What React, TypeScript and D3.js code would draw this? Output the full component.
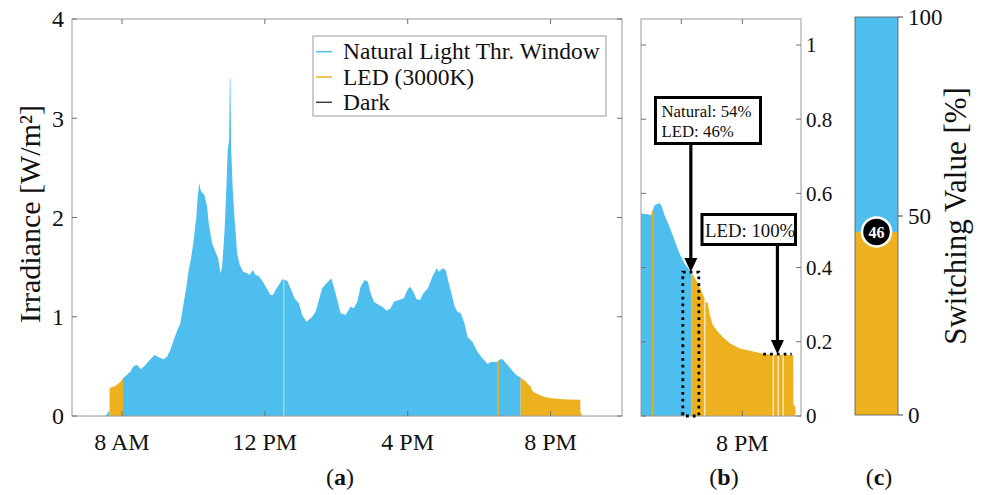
import React from 'react';
import * as d3 from 'd3';

// ---------- data (hours of day, irradiance W/m²) ----------
const naturalHours = [
  7.53, 7.58, 7.65, NaN,
  8.028, 8.233, 8.325, 8.421, 8.533, 8.653, 8.774, 8.914, 9.054, 9.166, 9.262, 9.354, 9.447, 9.542,
  9.634, 9.71, 9.803, 9.867, 9.934, 10.007, 10.083, 10.119, 10.15, 10.167, 10.195, 10.223, 10.307,
  10.383, 10.428, 10.523, 10.616, 10.691, 10.756, 10.803, 10.868, 10.924, 10.96, 11.0, 11.02, 11.035,
  11.056, 11.101, 11.148, 11.224, 11.297, 11.392, 11.504, 11.577, 11.661, 11.737, 11.83, 11.97,
  12.158, 12.233, 12.298, 12.39, 12.486, 12.626, 12.718, 12.83, 12.951, 13.046, 13.167, 13.327,
  13.419, 13.512, 13.607, 13.727, 13.859, 13.932, 14.027, 14.12, 14.26, 14.4, 14.493, 14.588,
  14.681, 14.793, 14.885, 14.961, 15.054, 15.194, 15.289, 15.41, 15.522, 15.614, 15.755, 15.895,
  15.99, 16.063, 16.158, 16.251, 16.343, 16.439, 16.567, 16.691, 16.811, 16.876, 16.971, 17.064,
  17.128, 17.223, 17.316, 17.392, 17.484, 17.577, 17.672, 17.812, 17.952, 18.093, 18.233, 18.341,
  18.451, 18.505, 18.561, 18.643, 18.68, 18.725, 18.807, 18.889, 18.97, 19.052, 19.134, 19.161,
];
const naturalValues = [
  0, 0.02, 0.06, NaN,
  0.38, 0.446, 0.504, 0.514, 0.471, 0.514, 0.564, 0.615, 0.587, 0.571, 0.597, 0.665, 0.766, 0.859,
  0.934, 1.101, 1.303, 1.471, 1.589, 1.773, 2.008, 2.21, 2.3, 2.351, 2.28, 2.26, 2.227,
  2.109, 1.942, 1.74, 1.655, 1.589, 1.438, 1.504, 1.841, 2.31, 2.68, 2.781, 3.4, 3.4,
  2.713, 2.277, 2.008, 1.639, 1.521, 1.454, 1.438, 1.421, 1.471, 1.421, 1.411, 1.337,
  1.219, 1.219, 1.27, 1.32, 1.377, 1.363, 1.287, 1.186, 1.136, 1.018, 0.95, 1.001,
  1.051, 1.169, 1.287, 1.337, 1.387, 1.303, 1.169, 1.035, 1.018, 1.101, 1.085, 1.152,
  1.303, 1.37, 1.353, 1.236, 1.152, 1.118, 1.101, 1.061, 1.085, 1.152, 1.169, 1.186,
  1.27, 1.303, 1.252, 1.176, 1.169, 1.236, 1.287, 1.404, 1.488, 1.454, 1.488, 1.471,
  1.37, 1.236, 1.101, 1.051, 1.035, 0.95, 0.799, 0.749, 0.648, 0.581, 0.524, 0.546,
  0.544, 0.541, 0.568, 0.574, 0.565, 0.541, 0.51, 0.474, 0.438, 0.411, 0.393, 0.388,
];
const ledHours = [
  7.652, 7.812, 7.952, 8.028, NaN,
  19.161, 19.243, 19.31, 19.407, 19.434, 19.462, 19.516, 19.598, 19.68, 19.795, 19.959, 20.123,
  20.341, 20.533, 20.833, 20.836, 20.87,
];
const ledValues = [
  0.282, 0.302, 0.343, 0.38, NaN,
  0.388, 0.366, 0.345, 0.306, 0.305, 0.275, 0.245, 0.227, 0.213, 0.196, 0.182, 0.176,
  0.168, 0.165, 0.164, 0.03, 0.025,
];
const ledSpikeHours = [18.53];
const gapHoursA = [12.53];
const gapHoursB = [19.385, 20.505, 20.587, 20.669];

const xTicksA = [8, 12, 16, 20];
const xTickLabelsA = ['8 AM', '12 PM', '4 PM', '8 PM'];
const yTicksA = [0, 1, 2, 3, 4];
const xTicksB = [19, 20];
const xTickLabelsB = ['', '8 PM'];
const yTicksB = [0, 0.2, 0.4, 0.6, 0.8, 1];
const yTicksC = [0, 50, 100];

const legendLabels = ['Natural Light Thr. Window', 'LED (3000K)', 'Dark'];
const naturalShare = 54;
const ledShare = 46;
const switchValue = 46;
// highlighted spans in (b): [startHour, endHour, level]
const highlightBox = [19.025, 19.287, 0.388];
const highlightLine = [20.341, 20.807, 0.167];

const BLUE = '#4DBEEE';
const ORANGE = '#EDB120';
const DARK = '#404040';
const AXIS = '#9a9a9a';
const TICK = '#707070';
const FONT = "'Liberation Serif', 'Times New Roman', Times, serif";

function valueAt(h: number): number {
  const series: [number[], number[]][] = [[naturalHours, naturalValues], [ledHours, ledValues]];
  for (const [hs, vs] of series) {
    for (let i = 0; i < hs.length - 1; i++) {
      if (isNaN(vs[i]) || isNaN(vs[i + 1])) continue;
      if (h >= hs[i] && h <= hs[i + 1]) {
        const t = (h - hs[i]) / (hs[i + 1] - hs[i] || 1);
        return vs[i] + t * (vs[i + 1] - vs[i]);
      }
    }
  }
  return 0;
}

export default function App() {
  const natPts = naturalHours.map((h, i) => [h, naturalValues[i]] as [number, number]);
  const ledPts = ledHours.map((h, i) => [h, ledValues[i]] as [number, number]);

  // Panel (a)
  const aL = 72, aR = 622, aT = 19, aB = 416;
  const xA = d3.scaleLinear().domain([6.6, 22]).range([aL, aR]);
  const yA = d3.scaleLinear().domain([0, 4]).range([aB, aT]);
  const areaA = d3.area<[number, number]>()
    .defined(d => !isNaN(d[1]))
    .x(d => xA(d[0])).y0(yA(0)).y1(d => yA(d[1]));

  // Panel (b)
  const bL = 641, bR = 801, bT = 19, bB = 416;
  const xB = d3.scaleLinear().domain([18.34, 20.96]).range([bL, bR]);
  const yB = d3.scaleLinear().domain([0, 1.07]).range([bB, bT]);
  const areaB = d3.area<[number, number]>()
    .defined(d => !isNaN(d[1]))
    .x(d => xB(d[0])).y0(yB(0)).y1(d => yB(d[1]));

  // Panel (c)
  const cL = 855, cR = 898;
  const yC = d3.scaleLinear().domain([0, 100]).range([415, 17]);

  const tl = 5;

  const arrow = (x: number, y1: number, y2: number) => (
    <g>
      <line x1={x} x2={x} y1={y1} y2={y2 - 11} stroke="#000" strokeWidth={3.2} />
      <path d={`M${x - 6.5},${y2 - 14} L${x + 6.5},${y2 - 14} L${x},${y2} Z`} fill="#000" />
    </g>
  );

  const panelLabel = (cx: number, letter: string) => (
    <text x={cx} y={485} textAnchor="middle" fontSize={24} fontFamily={FONT} fill="#111">
      (<tspan fontWeight="bold">{letter}</tspan>)
    </text>
  );

  const hb = highlightBox, hl = highlightLine;
  const arrow1X = xB((hb[0] + hb[1]) / 2);
  const arrow2X = xB((hl[0] + hl[1]) / 2);

  return (
    <div style={{ position: 'absolute', left: 0, top: 0 }}>
      <svg width={984} height={495} style={{ display: 'block', background: '#fff' }}>
        <defs>
          <clipPath id="clipA"><rect x={aL} y={aT} width={aR - aL} height={aB - aT} /></clipPath>
          <clipPath id="clipB"><rect x={bL} y={bT} width={bR - bL} height={bB - bT} /></clipPath>
        </defs>

        {/* ---------- Panel (a) ---------- */}
        <g clipPath="url(#clipA)">
          <path d={areaA(natPts) || ''} fill={BLUE} />
          <path d={areaA(ledPts) || ''} fill={ORANGE} />
          {gapHoursA.map((h, i) => (
            <line key={'ga' + i} x1={xA(h)} x2={xA(h)} y1={yA(0)} y2={yA(valueAt(h))}
              stroke="#fff" strokeOpacity={0.6} strokeWidth={1} />
          ))}
          {ledSpikeHours.map((h, i) => (
            <line key={'sa' + i} x1={xA(h)} x2={xA(h)} y1={yA(0)} y2={yA(valueAt(h))}
              stroke={ORANGE} strokeWidth={1.6} />
          ))}
        </g>
        <rect x={aL} y={aT} width={aR - aL} height={aB - aT} fill="none" stroke={AXIS} strokeWidth={1} />
        {xTicksA.map((t, i) => (
          <g key={'xa' + i}>
            <line x1={xA(t)} x2={xA(t)} y1={aB} y2={aB - tl} stroke={TICK} />
            <line x1={xA(t)} x2={xA(t)} y1={aT} y2={aT + tl} stroke={TICK} />
            <text x={xA(t)} y={450} textAnchor="middle" fontSize={24} fontFamily={FONT} fill="#111">{xTickLabelsA[i]}</text>
          </g>
        ))}
        {yTicksA.map((t, i) => (
          <g key={'ya' + i}>
            <line x1={aL} x2={aL + tl} y1={yA(t)} y2={yA(t)} stroke={TICK} />
            <line x1={aR} x2={aR - tl} y1={yA(t)} y2={yA(t)} stroke={TICK} />
            <text x={64} y={yA(t)} dy="0.35em" textAnchor="end" fontSize={24} fontFamily={FONT} fill="#111">{t}</text>
          </g>
        ))}
        <text transform={`translate(40,214) rotate(-90)`} textAnchor="middle" fontSize={30} fontFamily={FONT} fill="#111">
          Irradiance [W/m²]
        </text>

        {/* legend */}
        <rect x={313} y={36} width={293} height={80} fill="#fff" stroke={AXIS} strokeWidth={1} />
        {legendLabels.map((lab, i) => {
          const cy = 51.7 + i * 25.3;
          const col = [BLUE, ORANGE, DARK][i];
          return (
            <g key={'lg' + i}>
              <line x1={316} x2={332} y1={cy} y2={cy} stroke={col} strokeWidth={1.5} />
              <text x={343} y={cy + 7.7} fontSize={23.5} fontFamily={FONT} fill="#111">{lab}</text>
            </g>
          );
        })}
        {panelLabel(340, 'a')}

        {/* ---------- Panel (b) ---------- */}
        <g clipPath="url(#clipB)">
          <path d={areaB(natPts) || ''} fill={BLUE} />
          <path d={areaB(ledPts) || ''} fill={ORANGE} />
          {gapHoursB.map((h, i) => (
            <line key={'gb' + i} x1={xB(h)} x2={xB(h)} y1={yB(0)} y2={yB(valueAt(h))}
              stroke="#fff" strokeOpacity={0.85} strokeWidth={1.2} />
          ))}
          {ledSpikeHours.map((h, i) => (
            <line key={'sb' + i} x1={xB(h)} x2={xB(h)} y1={yB(0)} y2={yB(valueAt(h))}
              stroke={ORANGE} strokeWidth={1.6} />
          ))}
        </g>
        <rect x={bL} y={bT} width={bR - bL} height={bB - bT} fill="none" stroke={AXIS} strokeWidth={1} />
        {xTicksB.map((t, i) => (
          <g key={'xb' + i}>
            <line x1={xB(t)} x2={xB(t)} y1={bB} y2={bB - tl} stroke={TICK} />
            <line x1={xB(t)} x2={xB(t)} y1={bT} y2={bT + tl} stroke={TICK} />
            <text x={xB(t)} y={451} textAnchor="middle" fontSize={24} fontFamily={FONT} fill="#111">{xTickLabelsB[i]}</text>
          </g>
        ))}
        {yTicksB.map((t, i) => (
          <g key={'yb' + i}>
            <line x1={bL} x2={bL + tl} y1={yB(t)} y2={yB(t)} stroke={TICK} />
            <line x1={bR} x2={bR - tl} y1={yB(t)} y2={yB(t)} stroke={TICK} />
            <text x={806} y={yB(t)} dy="0.35em" textAnchor="start" fontSize={21} fontFamily={FONT} fill="#111">{t}</text>
          </g>
        ))}
        {/* dotted highlights */}
        <rect x={xB(hb[0])} y={yB(hb[2])} width={xB(hb[1]) - xB(hb[0])} height={yB(0) - yB(hb[2])}
          fill="none" stroke="#000" strokeWidth={2.8} strokeDasharray="2.8 4" />
        <line x1={xB(hl[0])} x2={xB(hl[1])} y1={yB(hl[2])} y2={yB(hl[2])}
          stroke="#000" strokeWidth={2.8} strokeDasharray="2.8 4" />
        {/* annotation boxes */}
        {arrow(arrow1X, 145, yB(hb[2]))}
        {arrow(arrow2X, 246, yB(hl[2]))}
        <rect x={655.5} y={97.5} width={105} height={46} fill="#fff" stroke="#000" strokeWidth={3} />
        <text x={661.5} y={117} fontSize={16.8} fontFamily={FONT} fill="#111">Natural: {naturalShare}%</text>
        <text x={661.5} y={137} fontSize={16.8} fontFamily={FONT} fill="#111">LED: {ledShare}%</text>
        <rect x={702} y={214.5} width={93.5} height={30} fill="#fff" stroke="#000" strokeWidth={3} />
        <text x={705} y={237} fontSize={18.8} fontFamily={FONT} fill="#111">LED: 100%</text>
        {panelLabel(724, 'b')}

        {/* ---------- Panel (c) ---------- */}
        <rect x={cL} y={yC(100)} width={cR - cL} height={yC(switchValue) - yC(100)} fill={BLUE} />
        <rect x={cL} y={yC(switchValue)} width={cR - cL} height={yC(0) - yC(switchValue)} fill={ORANGE} />
        <rect x={cL} y={yC(100)} width={cR - cL} height={yC(0) - yC(100)} fill="none" stroke="#555" strokeWidth={0.8} />
        {yTicksC.map((t, i) => (
          <g key={'yc' + i}>
            <line x1={cR} x2={cR + 5} y1={yC(t)} y2={yC(t)} stroke="#444" />
            <text x={908} y={yC(t)} dy="0.35em" fontSize={23} fontFamily={FONT} fill="#111">{t}</text>
          </g>
        ))}
        <circle cx={(cL + cR) / 2} cy={yC(switchValue)} r={14.5} fill="#000" stroke="#fff" strokeWidth={2.5} />
        <text x={(cL + cR) / 2} y={yC(switchValue)} dy="0.36em" textAnchor="middle" fontSize={16} fontWeight="bold"
          fontFamily={FONT} fill="#fff">{switchValue}</text>
        <text transform={`translate(966,216) rotate(-90)`} textAnchor="middle" fontSize={31} fontFamily={FONT} fill="#111">
          Switching Value [%]
        </text>
        {panelLabel(879, 'c')}
      </svg>
    </div>
  );
}
